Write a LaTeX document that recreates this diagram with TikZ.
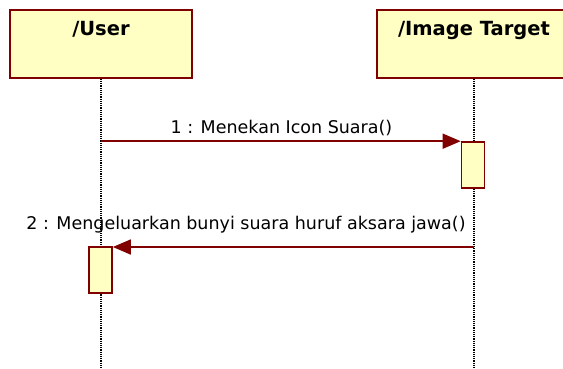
\documentclass[tikz,border=0pt]{standalone}
\usepackage{fontspec}
\setmainfont{DejaVu Sans}
\usetikzlibrary{arrows.meta}
\definecolor{boxfill}{RGB}{255,255,196}
\definecolor{boxline}{RGB}{128,0,0}
\tikzset{
  objbox/.style={draw=boxline, fill=boxfill, line width=1.6pt, minimum width=182pt, minimum height=68pt, inner sep=0pt},
  objname/.style={font=\bfseries\fontsize{19.5}{22}\selectfont, anchor=base, inner sep=0pt},
  actbox/.style={draw=boxline, fill=boxfill, line width=1.6pt, minimum width=23pt, minimum height=46pt, inner sep=0pt},
  lifeline/.style={densely dotted, line width=1.2pt},
  msg/.style={draw=boxline, line width=1.5pt, -{Triangle[length=18pt, width=15pt]}},
  msgtext/.style={font=\fontsize{17.5}{20}\selectfont, anchor=base, inner sep=0pt}
}
\begin{document}
\begin{tikzpicture}[x=1pt, y=-1pt]
  \useasboundingbox (0,0) rectangle (563,369);
  \clip (0,0) rectangle (563,369);
  % objects
  \node[objbox] (user) at (101,44) {};
  \node[objbox, minimum width=194pt] (target) at (474,44) {};
  \node[objname] (usertitle) at (101,36) {/User};
  \node[objname] (targettitle) at (474,36) {/Image Target};
  % lifelines
  \coordinate (userend) at (user.south |- 0,369);
  \coordinate (targetend) at (target.south |- 0,369);
  \draw[lifeline] (user.south) -- (userend);
  \draw[lifeline] (target.south) -- (targetend);
  % activations
  \node[actbox] (act1) at (473,165) {};
  \node[actbox] (act2) at (100.5,270) {};
  % messages
  \coordinate (m1) at (user.south |- act1.north);
  \coordinate (m2) at (target.south |- 0,247);
  \draw[msg] (m1) -- (act1.north west);
  \draw[msg] (m2) -- (act2.east |- m2);
  \node[msgtext] (msg1) at (281.5,133) {1 : Menekan Icon Suara()};
  \node[msgtext] (msg2) at (246,229) {2 : Mengeluarkan bunyi suara huruf aksara jawa()};
\end{tikzpicture}
\end{document}
